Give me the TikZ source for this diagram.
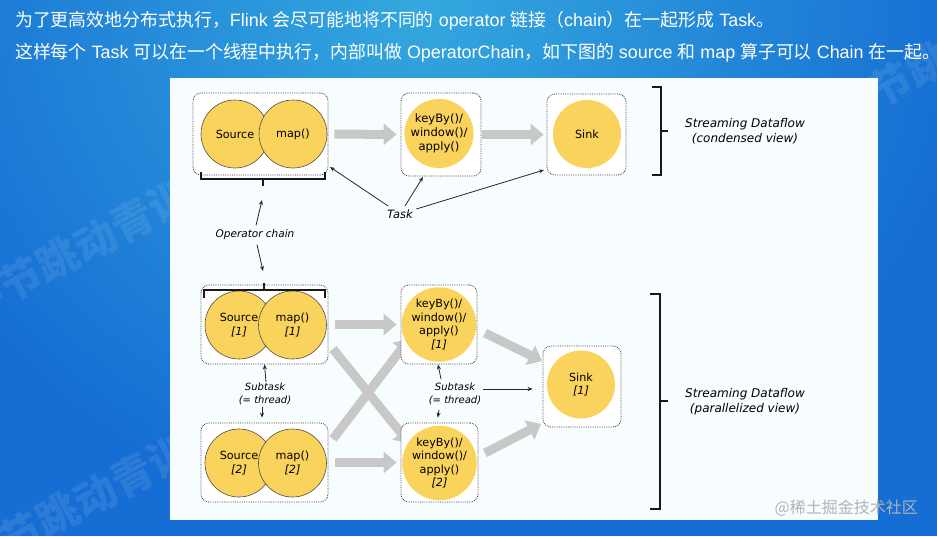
\documentclass[tikz,border=0pt]{standalone}
\usepackage{fontspec}
\setmainfont{Liberation Sans}
\newfontfamily\cjk{Noto Sans CJK SC}
\newfontfamily\dv{DejaVu Sans}
\usetikzlibrary{arrows.meta}
\pgfdeclarelayer{back}
\pgfdeclarelayer{flow}
\pgfsetlayers{back,flow,main}
\definecolor{yel}{RGB}{250,211,92}
\definecolor{garr}{RGB}{200,200,200}
\definecolor{bgA}{RGB}{22,110,212}
\definecolor{bgB}{RGB}{52,168,222}
\definecolor{wm}{RGB}{175,180,185}
\begin{document}
\begin{tikzpicture}[x=1pt,y=-1pt,
  box/.style={draw=black!75, fill=white, densely dotted, rounded corners=8pt, line width=0.8pt, inner sep=0pt},
  circ/.style={circle, fill=yel, minimum size=68pt, inner sep=0pt, align=center,
    font=\dv\fontsize{11.2}{13.5}\selectfont},
  circo/.style={circ, draw=black!70, line width=0.6pt},
  garrow/.style={draw=garr, line width=9pt, -{Triangle[length=13pt,width=21pt]}},
  arr/.style={draw=black!85, line width=0.8pt, -{Stealth[length=5pt,width=4pt]}},
  lbl/.style={align=center, font=\dv\itshape\fontsize{10.5}{13}\selectfont},
  big/.style={align=center, font=\dv\itshape\fontsize{12}{15}\selectfont},
  brace/.style={draw=black!90, line width=1.1pt},
  title/.style={anchor=west, text=white, inner sep=0pt, font=\fontsize{17.9}{20}\selectfont},
  water/.style={text=white, opacity=0.09, font=\cjk\bfseries\fontsize{42}{42}\selectfont, rotate=28}]
\useasboundingbox (0,0) rectangle (937,536);
% background
\begin{pgfonlayer}{back}
\begin{scope}
  \clip (0,0) rectangle (937,536);
  \fill[bgA] (0,0) rectangle (937,536);
  \shade[inner color=bgB, outer color=bgA] (-130,-520) rectangle (970,520);
  \node[water] (w1) at (95,240) {字节跳动青训营};
  \node[water] (w2) at (95,495) {字节跳动青训营};
  \node[water] (w3) at (965,45) {字节跳动青训营};
\end{scope}
% panel
\fill[white!97!cyan] (170,78) rectangle (878,520);
\end{pgfonlayer}
% title
\node[title] (t1) at (15,21) {{\cjk 为了更高效地分布式执行，}Flink {\cjk 会尽可能地将不同的} operator {\cjk 链接（}chain{\cjk ）在一起形成} Task{\cjk 。}};
\node[title] (t2) at (15,53) {{\cjk 这样每个} Task {\cjk 可以在一个线程中执行，内部叫做} OperatorChain{\cjk ，如下图的} source {\cjk 和} map {\cjk 算子可以} Chain {\cjk 在一起。}};

% ---------- condensed view ----------
\node[box, minimum width=135pt, minimum height=82pt] (tA) at (260.5,134) {};
\node[circo] (tSrc) at (235,134) {Source};
\node[circo] (tMap) at (293,134) {map()};
\node[box, minimum width=80pt, minimum height=83pt] (tK) at (441,134.5) {};
\node[circ, font=\dv\fontsize{11.6}{14}\selectfont] (tKc) at (439,133.5) {keyBy()/\\window()/\\apply()};
\node[box, minimum width=79pt, minimum height=81pt] (tS) at (586.5,134.5) {};
\node[circ] (tSc) at (587,134) {Sink};
\begin{pgfonlayer}{flow}
\draw[garrow, shorten <=6pt, shorten >=4pt] (tA.east) -- (tK.west);
\draw[garrow, shorten <=1pt, shorten >=3pt] (tK.east) -- (tS.west);
\end{pgfonlayer}
% bracket under chain
\draw[brace] (201,172) -- (201,179) -- (325,179) -- (325,172);
\draw[brace] (263,179) -- (263,186);
% Task label
\node[lbl, font=\dv\itshape\fontsize{11.5}{13}\selectfont] (task) at (400,214) {Task};
\coordinate (ta1) at (330,167);
\coordinate (ta2) at (423,177);
\coordinate (ta3) at (544,170);
\draw[arr] (task) -- (ta1);
\draw[arr] (task) -- (ta2);
\draw[arr] (task) -- (ta3);
% Operator chain
\node[lbl] (opc) at (255,235) {Operator chain};
\coordinate (oc1) at (262,200);
\coordinate (oc2) at (263,271);
\draw[arr] (opc.north) ++(1,-1) coordinate (ocs1) -- (oc1);
\draw[arr] (opc.south) ++(2,1) coordinate (ocs2) -- (oc2);
% right brace top
\draw[brace] (652,87) -- (661,87) -- (661,175) -- (652,175);
\draw[brace] (661,131) -- (668,131);
\node[big] (cv) at (745,131) {Streaming Dataflow\\(condensed view)};

% ---------- parallelized view ----------
\node[box, minimum width=127pt, minimum height=79pt] (bA1) at (264.5,324.5) {};
\node[circo] (bSrc1) at (239,325) {Source\\\textit{[1]}};
\node[circo] (bMap1) at (292.5,325) {map()\\\textit{[1]}};
\node[box, minimum width=127pt, minimum height=79pt] (bA2) at (264.5,462.5) {};
\node[circo] (bSrc2) at (239,463) {Source\\\textit{[2]}};
\node[circo] (bMap2) at (292.5,463) {map()\\\textit{[2]}};
\node[box, minimum width=76pt, minimum height=79pt] (bK1) at (439,324.5) {};
\node[circ] (bKc1) at (439,324.5) {keyBy()/\\window()/\\apply()\\\textit{[1]}};
\node[box, minimum width=77pt, minimum height=79pt] (bK2) at (439.5,462.5) {};
\node[circ] (bKc2) at (439.5,463) {keyBy()/\\window()/\\apply()\\\textit{[2]}};
\node[box, minimum width=78pt, minimum height=81pt] (bS) at (582,386.5) {};
\node[circ] (bSc) at (581,384.5) {Sink\\\textit{[1]}};
% bracket on top of chain
\draw[brace] (204,298) -- (204,290) -- (325,290) -- (325,298);
\draw[brace] (264,290) -- (264,283);
% gray data arrows
\coordinate (x1s) at (333,349);
\coordinate (x1e) at (409,443);
\coordinate (x2s) at (333,439);
\coordinate (x2e) at (409,339);
\coordinate (s1s) at (485,333);
\coordinate (s1e) at (542,361);
\coordinate (s2s) at (485,453);
\coordinate (s2e) at (541,424);
\begin{pgfonlayer}{flow}
\draw[garrow, shorten <=7pt, shorten >=4pt] (bA1.east) -- (bK1.west);
\draw[garrow, shorten <=7pt, shorten >=4pt] (bA2.east) -- (bK2.west);
\draw[garrow] (x1s) -- (x1e);
\draw[garrow] (x2s) -- (x2e);
\draw[garrow] (s1s) -- (s1e);
\draw[garrow] (s2s) -- (s2e);
\end{pgfonlayer}
% subtask labels
\node[lbl, font=\dv\itshape\fontsize{10}{13}\selectfont] (sub1) at (265,394) {Subtask\\(= thread)};
\coordinate (su1a) at (266,382);
\coordinate (su1b) at (262,407);
\draw[arr] (su1a) -- (bA1.south);
\draw[arr, shorten >=5pt] (su1b) -- (bA2.north -| su1b);
\node[lbl, font=\dv\itshape\fontsize{10}{13}\selectfont] (sub2) at (455,394) {Subtask\\(= thread)};
\coordinate (su2a) at (441,379);
\coordinate (su2b) at (439,410);
\coordinate (su2c) at (483,389);
\draw[arr] (su2a) -- (bK1.south -| 438,0);
\draw[arr, shorten >=5pt] (su2b) -- (bK2.north -| 437,0);
\draw[arr, shorten >=10pt] (su2c) -- (bS.west |- su2c);
% right brace bottom
\draw[brace] (650,294) -- (660,294) -- (660,509) -- (650,509);
\draw[brace] (660,401) -- (668,401);
\node[big] (pv) at (745,402) {Streaming Dataflow\\(parallelized view)};
% site mark
\node[anchor=east, text=wm, font=\cjk\fontsize{16}{18}\selectfont, inner sep=0pt] (mark) at (918,508) {@稀土掘金技术社区};
\end{tikzpicture}
\end{document}
